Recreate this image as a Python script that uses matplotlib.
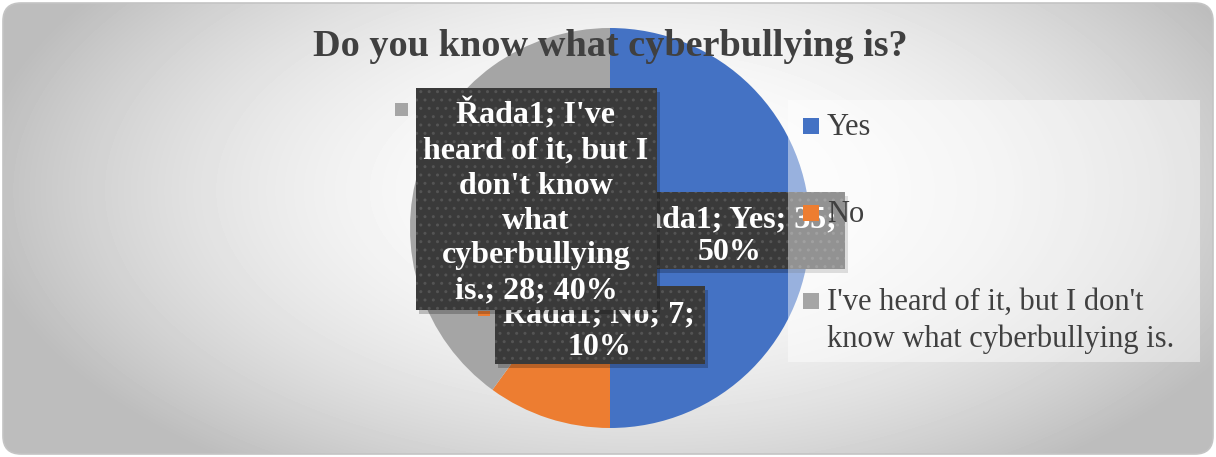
import numpy as np
import matplotlib.pyplot as plt
from matplotlib.patches import Rectangle, FancyBboxPatch

categories = ['Yes', 'No', "I've heard of it, but I don't know what cyberbullying is."]
counts = [35, 7, 28]
percents = [50, 10, 40]
series_name = 'Řada1'
colors = ['#4472C4', '#ED7D31', '#A5A5A5']
title = 'Do you know what cyberbullying is?'

W, H = 1216, 457
SERIF = ['Liberation Serif', 'DejaVu Serif']

fig = plt.figure(figsize=(W / 100, H / 100), dpi=100)
fig.patch.set_facecolor('white')

# background: rounded panel with a soft radial grey gradient
bg = fig.add_axes([0, 0, 1, 1])
bg.set_xlim(0, W)
bg.set_ylim(H, 0)
bg.axis('off')
yy, xx = np.mgrid[0:H, 0:W]
r2 = ((xx - 640) / 640.0) ** 2 + ((yy - 190) / 330.0) ** 2
shade = np.clip(1.0 - 0.24 * r2, 0.74, 1.0)
img = bg.imshow(shade, cmap='gray', vmin=0, vmax=1, extent=(0, W, H, 0), zorder=0)
panel = FancyBboxPatch((3, 3), W - 6, H - 6, boxstyle='round,pad=0,rounding_size=18',
                       facecolor='none', edgecolor='#c4c4c4', lw=1.2, zorder=1)
bg.add_patch(panel)
img.set_clip_path(panel)

# pie
cx, cy, rad = 610, 228, 200
pax = fig.add_axes([(cx - rad) / W, (H - cy - rad) / H, 2 * rad / W, 2 * rad / H])
pax.pie(counts, colors=colors, startangle=90, counterclock=False,
        wedgeprops=dict(linewidth=0))
pax.set_xlim(-1, 1)
pax.set_ylim(-1, 1)
pax.axis('off')

# overlay in pixel coordinates for the labels and legend
ov = fig.add_axes([0, 0, 1, 1])
ov.set_xlim(0, W)
ov.set_ylim(H, 0)
ov.axis('off')
ov.patch.set_alpha(0)

plt.rcParams['hatch.linewidth'] = 1.0


def label_box(x, y, w, h, text, z, tx, ty, ls):
    ov.add_patch(Rectangle((x + 3, y + 4), w, h, facecolor='black', alpha=0.22, lw=0, zorder=z - 0.2))
    ov.add_patch(Rectangle((x, y), w, h, facecolor='#3a3a3a', lw=0, zorder=z - 0.1))
    ov.add_patch(Rectangle((x, y), w, h, facecolor='none', edgecolor='#545454', hatch='..',
                           lw=0, zorder=z))
    ov.text(tx, ty, text, ha='center', va='center', color='white', fontsize=23,
            fontweight='bold', family=SERIF, linespacing=ls, zorder=z + 0.1)


def fmt(i):
    return f'{series_name}; {categories[i]}; {counts[i]}; {percents[i]}%'


# No label (bottom), Yes label, then the big grey label on top
no_txt = fmt(1).replace(' 7; ', ' 7;\n')
label_box(495, 286, 210, 78, no_txt, 3, 599, 330, 1.1)
yes_txt = fmt(0).replace(' 35; ', ' 35;\n')
label_box(640, 192, 205, 77, yes_txt, 4, 730, 235, 1.1)

# legend backdrop (semi transparent white)
ov.add_patch(Rectangle((788, 100), 412, 262, facecolor='white', alpha=0.45, lw=0, zorder=5))

grey_txt = "Řada1; I've\nheard of it, but I\ndon't know\nwhat\ncyberbullying\nis.; 28; 40%"
grey_txt = grey_txt.replace('28', str(counts[2])).replace('40%', f'{percents[2]}%')
label_box(416, 88, 241, 222, grey_txt, 6, 536, 202, 1.27)

# small stray legend keys visible in the reference
ov.add_patch(Rectangle((395, 103), 13, 13, facecolor=colors[2], lw=0, zorder=6))
ov.add_patch(Rectangle((478, 311), 12, 5, facecolor=colors[1], lw=0, zorder=2.5))

# legend
leg_base = [135, 222, 310]
leg_txt = ['Yes', 'No', "I've heard of it, but I don't\nknow what cyberbullying is."]
for i, (ly, t) in enumerate(zip(leg_base, leg_txt)):
    ov.add_patch(Rectangle((803, ly - 17), 16, 16, facecolor=colors[i], lw=0, zorder=8))
    ov.text(827, ly, t.split('\n')[0], ha='left', va='baseline', fontsize=22, color='#404040',
            family=SERIF, zorder=8)
    if '\n' in t:
        ov.text(827, ly + 37, t.split('\n')[1], ha='left', va='baseline', fontsize=22,
                color='#404040', family=SERIF, zorder=8)

# title
ov.text(610, 46, title, ha='center', va='center', fontsize=27.5, fontweight='bold',
        color='#404040', family=SERIF, zorder=9)

fig.savefig('out.png', dpi=100)
